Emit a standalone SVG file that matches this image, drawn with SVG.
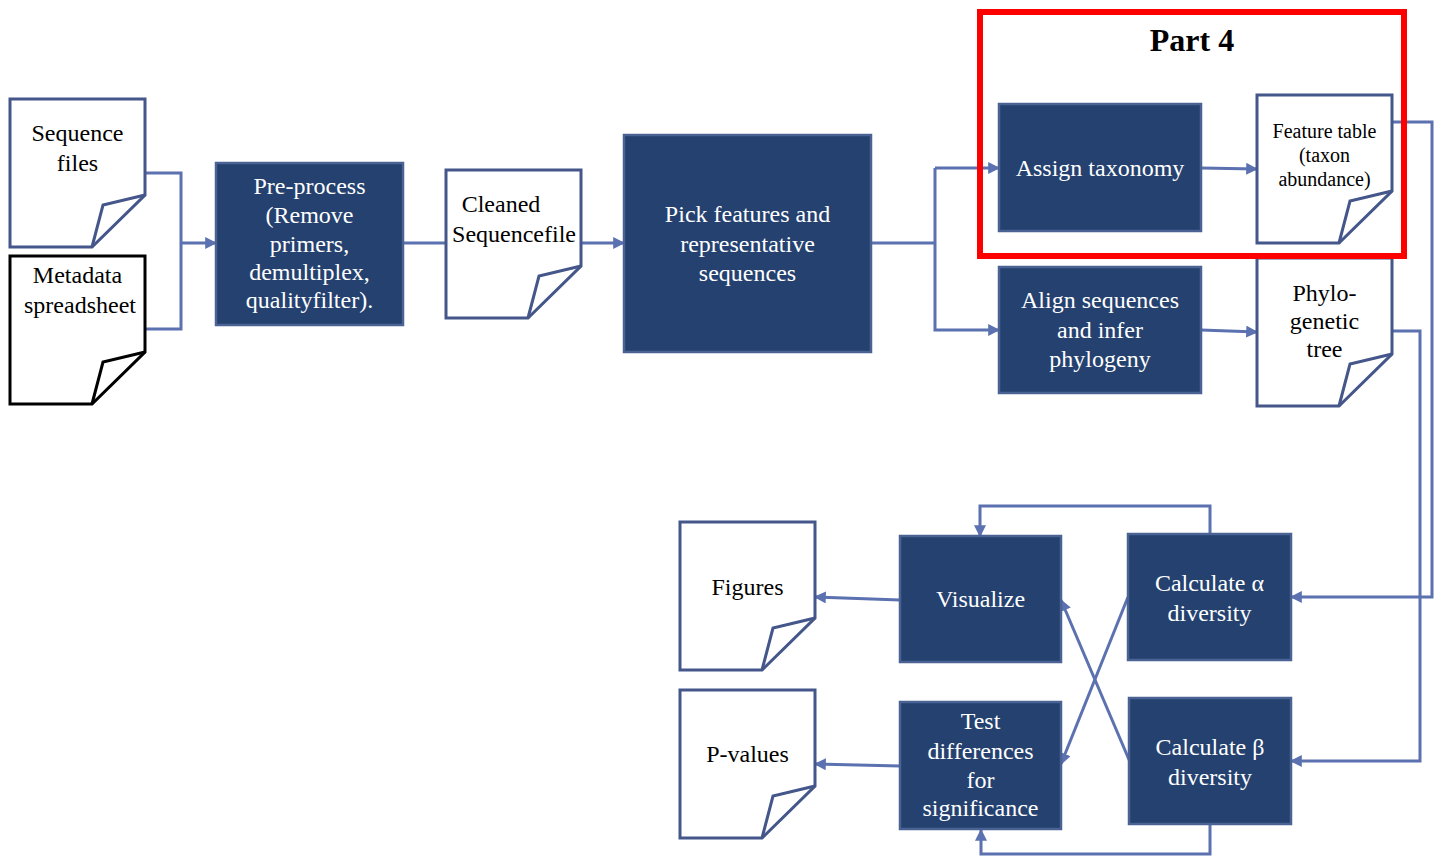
<svg xmlns="http://www.w3.org/2000/svg" xmlns:xlink="http://www.w3.org/1999/xlink" width="1442" height="856" viewBox="0 0 1442 856">
<style>
.box{fill:#24416f;stroke:#4a6394;stroke-width:2.5}
.doc{fill:#ffffff;stroke-width:3;stroke-linejoin:miter}
.fold{fill:none;stroke-width:3}
.blue{stroke:#44568a}
.black{stroke:#000000}
.wt{font-family:"Liberation Serif","Times New Roman",serif;font-size:24px;fill:#ffffff;text-anchor:middle}
.bt{font-family:"Liberation Serif","Times New Roman",serif;font-size:24px;fill:#000000;text-anchor:middle}
.conn path{fill:none;stroke:#5b71b0;stroke-width:3}
.arr{marker-end:url(#ah)}
</style>
<defs>
<marker id="ah" viewBox="0 0 10 10" markerWidth="12" markerHeight="12" markerUnits="userSpaceOnUse" refX="9" refY="5" orient="auto">
<path d="M0,0 L10,5 L0,10 z" fill="#5b71b0"/>
</marker>
<path id="docshape" d="M0,0 H135 V96 L82,148 H0 Z"/>
<path id="docfold" d="M82,148 L93,106 L135,96"/>
</defs>
<rect width="1442" height="856" fill="#ffffff"/>

<g class="conn" id="connectors">
<path d="M145,173 H181 V329 H145"/>
<path class="arr" d="M181,243 H216"/>
<path d="M403,243 H446"/>
<path class="arr" d="M581,243 H624"/>
<path d="M871,243 H935"/>
<path class="arr" d="M935,168 H999"/>
<path class="arr" d="M935,168 V330 H999"/>
<path class="arr" d="M1201,168 L1257,169"/>
<path class="arr" d="M1201,330 L1257,332"/>
<path class="arr" d="M1392,122 H1432 V597 H1291"/>
<path class="arr" d="M1392,331 H1420 V761 H1291"/>
<path class="arr" d="M1210,534 V506 H980 V536"/>
<path class="arr" d="M1210,824 V854 H981 V830"/>
<path class="arr" d="M1128,597 L1061,764"/>
<path class="arr" d="M1130,762 L1061,600"/>
<path class="arr" d="M900,600 L815,597"/>
<path class="arr" d="M900,766 L815,764"/>
</g>

<g id="seqfiles" transform="translate(10,99)">
<use xlink:href="#docshape" class="doc blue"/>
<use xlink:href="#docfold" class="fold blue"/>
<text class="bt" x="67.5" y="42">Sequence</text>
<text class="bt" x="67.5" y="72">files</text>
</g>

<g id="metadata" transform="translate(10,256)">
<use xlink:href="#docshape" class="doc black"/>
<use xlink:href="#docfold" class="fold black"/>
<text class="bt" x="67.5" y="27">Metadata</text>
<text class="bt" x="70" y="57">spreadsheet</text>
</g>

<g id="preprocess">
<rect class="box" x="216" y="163" width="187" height="162"/>
<text class="wt" x="309.5" y="194">Pre-process</text>
<text class="wt" x="309.5" y="223">(Remove</text>
<text class="wt" x="309.5" y="252">primers,</text>
<text class="wt" x="309.5" y="280">demultiplex,</text>
<text class="wt" x="309.5" y="308">qualityfilter).</text>
</g>

<g id="cleaned" transform="translate(446,170)">
<use xlink:href="#docshape" class="doc blue"/>
<use xlink:href="#docfold" class="fold blue"/>
<text class="bt" x="55" y="42">Cleaned</text>
<text class="bt" x="68" y="72">Sequencefile</text>
</g>

<g id="pick">
<rect class="box" x="624" y="135" width="247" height="217"/>
<text class="wt" x="747.5" y="222">Pick features and</text>
<text class="wt" x="747.5" y="252">representative</text>
<text class="wt" x="747.5" y="281">sequences</text>
</g>

<g id="assign">
<rect class="box" x="999" y="104" width="202" height="127"/>
<text class="wt" x="1100" y="176">Assign taxonomy</text>
</g>

<g id="feature" transform="translate(1257,95)">
<use xlink:href="#docshape" class="doc blue"/>
<use xlink:href="#docfold" class="fold blue"/>
<text class="bt" x="67.5" y="43" style="font-size:20px">Feature table</text>
<text class="bt" x="67.5" y="67" style="font-size:20px">(taxon</text>
<text class="bt" x="67.5" y="91" style="font-size:20px">abundance)</text>
</g>

<g id="align">
<rect class="box" x="999" y="267" width="202" height="126"/>
<text class="wt" x="1100" y="308">Align sequences</text>
<text class="wt" x="1100" y="338">and infer</text>
<text class="wt" x="1100" y="367">phylogeny</text>
</g>

<g id="phylo" transform="translate(1257,258)">
<use xlink:href="#docshape" class="doc blue"/>
<use xlink:href="#docfold" class="fold blue"/>
<text class="bt" x="67.5" y="43">Phylo-</text>
<text class="bt" x="67.5" y="71">genetic</text>
<text class="bt" x="67.5" y="99">tree</text>
</g>

<g id="part4">
<rect x="980" y="12" width="424" height="244" fill="none" stroke="#ff0000" stroke-width="6"/>
<text x="1192" y="51" style="font-family:'Liberation Serif','Times New Roman',serif;font-size:32px;font-weight:bold;fill:#000000;text-anchor:middle">Part 4</text>
</g>

<g id="calcalpha">
<rect class="box" x="1128" y="534" width="163" height="126"/>
<text class="wt" x="1209.5" y="591">Calculate α</text>
<text class="wt" x="1209.5" y="621">diversity</text>
</g>

<g id="calcbeta">
<rect class="box" x="1129" y="698" width="162" height="126"/>
<text class="wt" x="1210" y="755">Calculate β</text>
<text class="wt" x="1210" y="785">diversity</text>
</g>

<g id="visualize">
<rect class="box" x="900" y="536" width="161" height="126"/>
<text class="wt" x="980.5" y="607">Visualize</text>
</g>

<g id="testdiff">
<rect class="box" x="900" y="702" width="161" height="127"/>
<text class="wt" x="980.5" y="729">Test</text>
<text class="wt" x="980.5" y="759">differences</text>
<text class="wt" x="980.5" y="788">for</text>
<text class="wt" x="980.5" y="816">significance</text>
</g>

<g id="figures" transform="translate(680,522)">
<use xlink:href="#docshape" class="doc blue"/>
<use xlink:href="#docfold" class="fold blue"/>
<text class="bt" x="67.5" y="73">Figures</text>
</g>

<g id="pvalues" transform="translate(680,690)">
<use xlink:href="#docshape" class="doc blue"/>
<use xlink:href="#docfold" class="fold blue"/>
<text class="bt" x="67.5" y="72">P-values</text>
</g>
</svg>
